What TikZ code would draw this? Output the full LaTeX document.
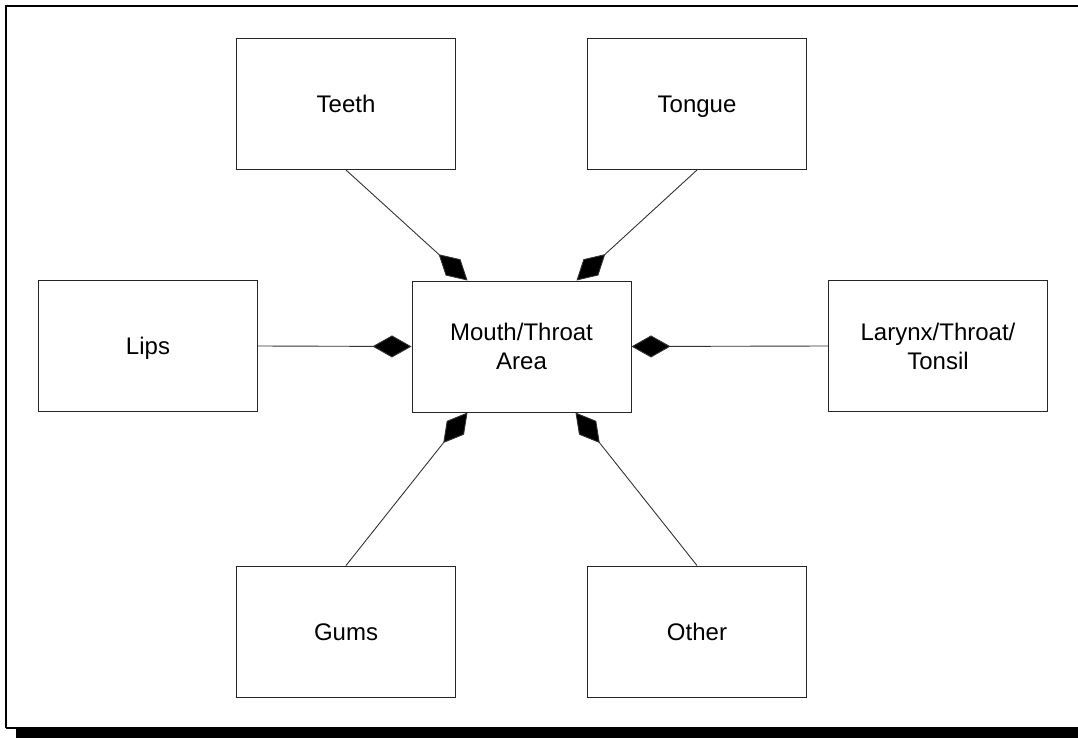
\documentclass[tikz,border=0pt]{standalone}
\usepackage{fontspec}
\setmainfont{Liberation Sans}
\usetikzlibrary{arrows.meta}
\begin{document}
\begin{tikzpicture}[x=1pt,y=-1pt,
  box/.style={draw=black!85, line width=1pt, fill=white, minimum width=219pt, minimum height=131pt,
    inner sep=0pt, align=center, font=\fontsize{24pt}{29pt}\selectfont},
  oneline/.style={text height=17.5pt, text depth=0pt},
  conn/.style={draw=black!80, line width=0.9pt, -{Diamond[length=39pt,width=22pt,fill=black]}}]
\useasboundingbox (0,0) rectangle (1078,738);
% frame
\draw[line width=2pt] (6,728) -- (6,6) -- (1078,6);
\draw[line width=1.5pt] (6,728) -- (1078,728);
\fill[black] (16,729) rectangle (1078,738);
% nodes
\node[box] (center) at (521.5,346.5) {Mouth/Throat\\Area};
\node[box, oneline] (teeth) at (346,104) {Teeth};
\node[box, oneline] (tongue) at (697,104) {Tongue};
\node[box, oneline] (lips) at (148,346) {Lips};
\node[box] (larynx) at (938,346) {Larynx/Throat/\\Tonsil};
\node[box, oneline] (gums) at (346,631.5) {Gums};
\node[box, oneline] (other) at (697,631.5) {Other};
% connectors
\draw[conn] (teeth.south) -- ([xshift=-54pt]center.north);
\draw[conn] (tongue.south) -- ([xshift=55pt]center.north);
\draw[conn] (lips.east) -- (center.west);
\draw[conn] (larynx.west) -- (center.east);
\draw[conn] (gums.north) -- ([xshift=-54pt]center.south);
\draw[conn] (other.north) -- ([xshift=54pt]center.south);
\end{tikzpicture}
\end{document}
